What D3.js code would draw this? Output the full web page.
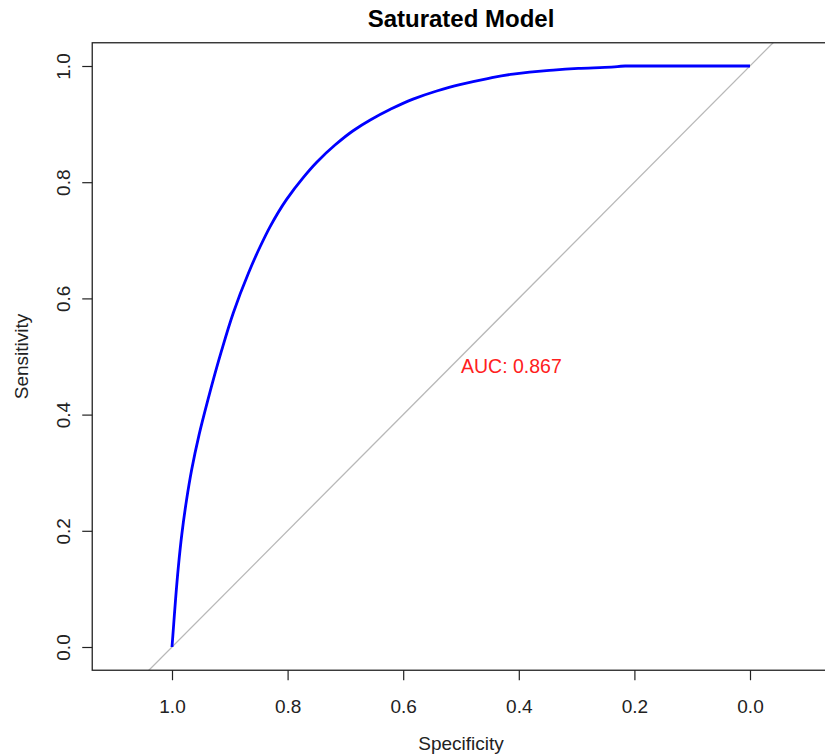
<!DOCTYPE html>
<html>
<head>
<meta charset="utf-8">
<script src="https://cdn.jsdelivr.net/npm/d3@7"></script>
<style>
  html, body { margin: 0; padding: 0; background: #fff; }
  svg { display: block; font-family: "Liberation Sans", Arial, sans-serif; }
</style>
</head>
<body>
<svg id="chart" width="825" height="755"></svg>
<script>
// ROC curve points (specificity, sensitivity)
const specificity = [1.000, 0.997, 0.994, 0.989, 0.983, 0.975, 0.966, 0.953, 0.938, 0.914,
  0.894, 0.868, 0.848, 0.830, 0.802, 0.773, 0.750, 0.718, 0.686, 0.657,
  0.623, 0.583, 0.542, 0.502, 0.456, 0.410, 0.352, 0.297, 0.240, 0.216, 0.000];
const sensitivity = [0.000, 0.040, 0.080, 0.138, 0.194, 0.252, 0.305, 0.366, 0.425, 0.511,
  0.575, 0.643, 0.688, 0.724, 0.770, 0.808, 0.834, 0.864, 0.889, 0.907,
  0.925, 0.943, 0.957, 0.968, 0.978, 0.986, 0.992, 0.996, 0.998, 1.000, 1.000];
const xTicks = [1.0, 0.8, 0.6, 0.4, 0.2, 0.0];
const yTicks = [0.0, 0.2, 0.4, 0.6, 0.8, 1.0];
const aucValue = 0.867;
const chartTitle = "Saturated Model";
const xLabel = "Specificity";
const yLabel = "Sensitivity";

const svg = d3.select("#chart");

// scales: specificity reversed
const x = d3.scaleLinear().domain([1, 0]).range([172, 750]);
const y = d3.scaleLinear().domain([0, 1]).range([647, 66]);

// plot region (R-style extended)
const xMinD = 1.138, xMaxD = -0.138, yMinD = -0.04, yMaxD = 1.04;
const bx0 = x(xMinD), bx1 = x(xMaxD), by0 = y(yMaxD), by1 = y(yMinD);

svg.append("defs").append("clipPath").attr("id", "clip")
  .append("rect").attr("x", bx0).attr("y", by0)
  .attr("width", bx1 - bx0).attr("height", by1 - by0);

const plot = svg.append("g").attr("clip-path", "url(#clip)");

// diagonal chance line: sensitivity = 1 - specificity
plot.append("line")
  .attr("x1", x(1.2)).attr("y1", y(-0.2))
  .attr("x2", x(-0.2)).attr("y2", y(1.2))
  .attr("stroke", "#b8b8b8").attr("stroke-width", 1.3);

// ROC curve
const pts = specificity.map((s, i) => [s, sensitivity[i]]);
plot.append("path")
  .datum(pts)
  .attr("fill", "none")
  .attr("stroke", "#0000ff")
  .attr("stroke-width", 2.8)
  .attr("stroke-linejoin", "round")
  .attr("d", d3.line().curve(d3.curveMonotoneY).x(d => x(d[0])).y(d => y(d[1])));

// AUC text
svg.append("text")
  .attr("x", x(0.5)).attr("y", y(0.5))
  .attr("dy", "0.85em")
  .attr("fill", "#ff2020")
  .attr("font-size", 19.5)
  .text("AUC: " + aucValue.toFixed(3));

// box
svg.append("rect")
  .attr("x", bx0).attr("y", by0)
  .attr("width", bx1 - bx0).attr("height", by1 - by0)
  .attr("fill", "none").attr("stroke", "#222").attr("stroke-width", 1.3);

// x axis
const xAxis = d3.axisBottom(x).tickValues(xTicks).tickFormat(d3.format(".1f"))
  .tickSize(10).tickPadding(19);
const gx = svg.append("g").attr("transform", `translate(0,${by1})`).call(xAxis);
gx.select(".domain").remove();
gx.selectAll("line").attr("stroke", "#222").attr("stroke-width", 1.2);
gx.selectAll("text").attr("font-size", 19).attr("fill", "#222")
  .attr("font-family", "Liberation Sans, Arial, sans-serif");

// y axis
const yAxis = d3.axisLeft(y).tickValues(yTicks).tickFormat(d3.format(".1f"))
  .tickSize(10).tickPadding(0);
const gy = svg.append("g").attr("transform", `translate(${bx0},0)`).call(yAxis);
gy.select(".domain").remove();
gy.selectAll("line").attr("stroke", "#222").attr("stroke-width", 1.2);
gy.selectAll("text")
  .attr("font-size", 19).attr("fill", "#222")
  .attr("font-family", "Liberation Sans, Arial, sans-serif")
  .attr("x", 0).attr("dy", 0)
  .attr("text-anchor", "middle")
  .attr("transform", "translate(-22,0) rotate(-90)");

// titles
svg.append("text")
  .attr("x", (bx0 + bx1) / 2).attr("y", 27)
  .attr("text-anchor", "middle")
  .attr("font-weight", "bold").attr("font-size", 24)
  .attr("fill", "#000")
  .text(chartTitle);

svg.append("text")
  .attr("x", (bx0 + bx1) / 2).attr("y", 750)
  .attr("text-anchor", "middle")
  .attr("font-size", 19).attr("fill", "#222")
  .text(xLabel);

svg.append("text")
  .attr("transform", `translate(28,${(by0 + by1) / 2}) rotate(-90)`)
  .attr("text-anchor", "middle")
  .attr("font-size", 19).attr("fill", "#222")
  .text(yLabel);
</script>
</body>
</html>
